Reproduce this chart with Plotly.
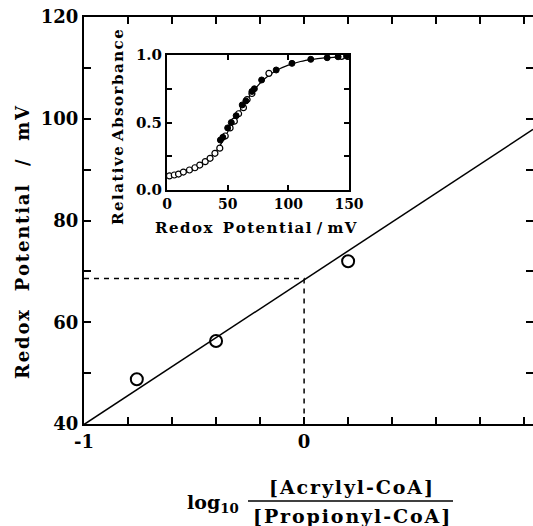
import plotly.graph_objects as go

# ---- main panel data ----
log_ratio = [-0.76, -0.40, 0.20]
redox_mv = [48.8, 56.3, 72.0]
fit_x = [-1.0, 1.04]
fit_y = [39.9, 97.9]
midpoint_x = [-1.0, 0.0, 0.0]
midpoint_y = [68.6, 68.6, 40.0]
x_tickvals = [-1.0, 0.0]
x_ticktext = ["-1", "0"]
y_tickvals = [40, 60, 80, 100, 120]
y_ticktext = ["40", "60", "80", "100", "120"]

# ---- inset data ----
open_e = [2, 6, 9.5, 13.5, 18.5, 23, 27, 31.5, 35.5, 39.5, 43.5, 48, 52, 55.5, 59, 63, 66, 70, 84, 144, 149]
open_a = [0.104, 0.111, 0.118, 0.133, 0.148, 0.165, 0.185, 0.21, 0.235, 0.272, 0.31, 0.40, 0.46, 0.51,
          0.565, 0.61, 0.67, 0.715, 0.864, 0.99, 0.99]
filled_e = [44, 46, 50, 53, 57, 62, 65, 70, 72, 78, 90, 103, 118.5, 132, 141, 148]
filled_a = [0.37, 0.39, 0.46, 0.50, 0.55, 0.63, 0.66, 0.73, 0.75, 0.815, 0.889, 0.938, 0.968, 0.98, 0.987, 0.993]
curve_e = [0, 10, 20, 30, 40, 50, 60, 70, 80, 90, 100, 110, 120, 130, 140, 150]
curve_a = [0.10, 0.118, 0.152, 0.20, 0.28, 0.43, 0.585, 0.72, 0.82, 0.885, 0.925, 0.952, 0.968, 0.978, 0.985, 0.99]
inset_xticks = [0, 50, 100, 150]
inset_yticks = [0.0, 0.5, 1.0]
inset_yticktext = ["0.0", "0.5", "1.0"]

FONT = "DejaVu Serif"
W, H = 533, 526
L, R, T, B = 84, 0, 17, 102
PW, PH = W - L - R, H - T - B
HS = "\u200a"  # hair space for letter spacing


def spaced(s):
    return HS.join(list(s))


def px(x):
    return (x - L) / PW


def py(y):
    return (H - B - y) / PH


fig = go.Figure()

# main panel
fig.add_trace(go.Scatter(x=midpoint_x, y=midpoint_y, mode="lines",
                         line=dict(color="black", width=1.5, dash="5px,5px"),
                         xaxis="x", yaxis="y", showlegend=False))
fig.add_trace(go.Scatter(x=fit_x, y=fit_y, mode="lines",
                         line=dict(color="black", width=1.5),
                         xaxis="x", yaxis="y", showlegend=False))
fig.add_trace(go.Scatter(x=log_ratio, y=redox_mv, mode="markers",
                         marker=dict(symbol="circle-open", size=12, color="black",
                                     line=dict(width=2, color="black")),
                         xaxis="x", yaxis="y", showlegend=False))

# inset
fig.add_trace(go.Scatter(x=curve_e, y=curve_a, mode="lines", line=dict(color="black", width=1.2, shape="spline"),
                         xaxis="x2", yaxis="y2", showlegend=False))
fig.add_trace(go.Scatter(x=open_e, y=open_a, mode="markers",
                         marker=dict(symbol="circle", size=6, color="white",
                                     line=dict(width=1.2, color="black")),
                         xaxis="x2", yaxis="y2", showlegend=False))
fig.add_trace(go.Scatter(x=filled_e, y=filled_a, mode="markers",
                         marker=dict(symbol="circle", size=6, color="black",
                                     line=dict(width=1, color="black")),
                         xaxis="x2", yaxis="y2", showlegend=False))

axis_common = dict(showgrid=False, zeroline=False, showline=True, linecolor="black",
                   ticks="inside", tickcolor="black", mirror="ticks", automargin=False)

fig.update_layout(
    width=W, height=H,
    margin=dict(l=L, r=R, t=T, b=B, pad=0, autoexpand=False),
    paper_bgcolor="white", plot_bgcolor="white",
    font=dict(family=FONT, color="black"),
    xaxis=dict(range=[-1.0, 1.04], domain=[0, 1], anchor="y",
               tickvals=x_tickvals, ticktext=x_ticktext, ticklen=7, tickwidth=2, linewidth=2,
               minor=dict(tick0=-1, dtick=0.2, ticks="inside", ticklen=7, tickwidth=2, tickcolor="black"),
               tickfont=dict(family=FONT, size=18, weight="bold"), **axis_common),
    yaxis=dict(range=[40, 120], domain=[0, 1], anchor="x",
               tickvals=y_tickvals, ticktext=y_ticktext, ticklen=7, tickwidth=2, linewidth=2,
               minor=dict(tick0=40, dtick=10, ticks="inside", ticklen=7, tickwidth=2, tickcolor="black"),
               tickfont=dict(family=FONT, size=18, weight="bold"), **axis_common),
    xaxis2=dict(range=[0, 150], domain=[px(167), px(349)], anchor="y2",
                tickvals=inset_xticks, ticklen=5, tickwidth=1.5, linewidth=2,
                tickfont=dict(family=FONT, size=14, weight="bold"), **axis_common),
    yaxis2=dict(range=[0, 1], domain=[py(190), py(55)], anchor="x2",
                tickvals=inset_yticks, ticktext=inset_yticktext, ticklen=5, tickwidth=1.5, linewidth=2,
                minor=dict(tick0=0, dtick=0.25, ticks="inside", ticklen=5, tickwidth=1.5, tickcolor="black"),
                tickfont=dict(family=FONT, size=15, weight="bold"), **axis_common),
)

ann = []
# main y title
ann.append(dict(text=spaced("Redox") + "   " + spaced("Potential") + "   /   " + spaced("mV"),
                x=px(22), y=py(242), xref="paper", yref="paper",
                textangle=-90, showarrow=False, xanchor="center", yanchor="middle",
                font=dict(family=FONT, size=18, weight="bold")))
# inset titles
ann.append(dict(text=spaced("Redox") + "  " + spaced("Potential") + " / " + spaced("mV"),
                x=px(256), y=py(228), xref="paper", yref="paper",
                showarrow=False, xanchor="center", yanchor="middle",
                font=dict(family=FONT, size=15, weight="bold")))
ann.append(dict(text=spaced("Relative") + " " + spaced("Absorbance"),
                x=px(118), y=py(127), xref="paper", yref="paper",
                textangle=-90, showarrow=False, xanchor="center", yanchor="middle",
                font=dict(family=FONT, size=15, weight="bold")))
# x title (fraction)
ann.append(dict(text="log<sub>10</sub>", x=px(185), y=py(503), xref="paper", yref="paper",
                showarrow=False, xanchor="left", yanchor="middle",
                font=dict(family=FONT, size=19, weight="bold")))
ann.append(dict(text=spaced("[Acrylyl-CoA]"), x=px(351), y=py(487), xref="paper", yref="paper",
                showarrow=False, xanchor="center", yanchor="middle",
                font=dict(family=FONT, size=19, weight="bold")))
ann.append(dict(text=spaced("[Propionyl-CoA]"), x=px(351), y=py(516), xref="paper", yref="paper",
                showarrow=False, xanchor="center", yanchor="middle",
                font=dict(family=FONT, size=19, weight="bold")))
fig.update_layout(annotations=ann)
fig.add_shape(type="line", xref="paper", yref="paper", x0=px(248), x1=px(453), y0=py(501), y1=py(501),
              line=dict(color="black", width=1.5))

fig.write_html("out.html")
